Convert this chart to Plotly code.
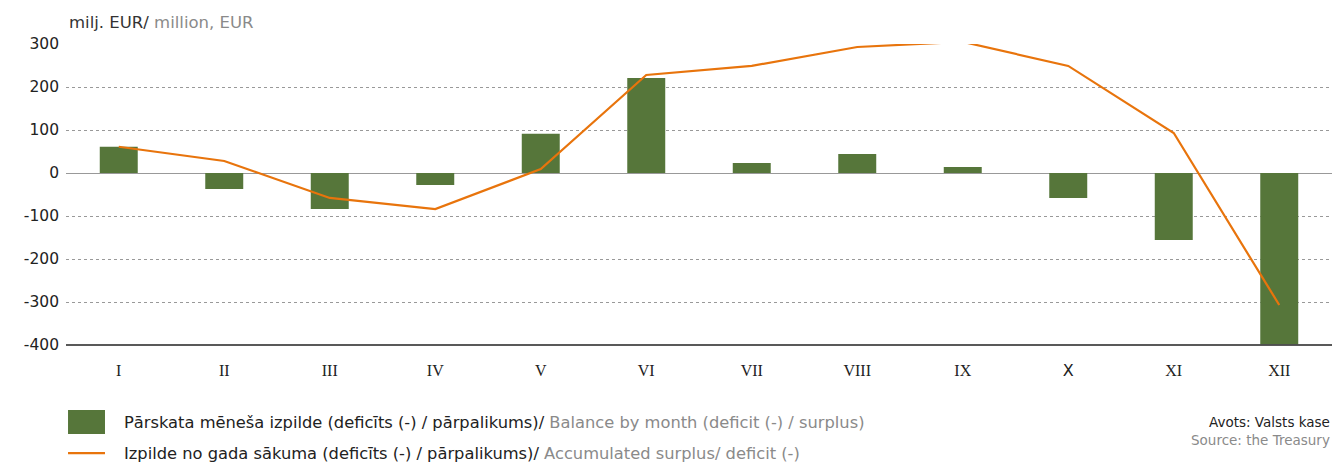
import plotly.graph_objects as go

months = ["I", "II", "III", "IV", "V", "VI", "VII", "VIII", "IX", "X", "XI", "XII"]
month_labels = ["I", "II", "III", "IV", "V", "VI", "VII", "VIII", "IX",
                "<span style='font-family:DejaVu Sans'>X</span>", "XI", "XII"]
monthly = [61, -37, -84, -28, 91, 221, 23, 44, 14, -58, -156, -398]
accumulated = [61, 28, -58, -84, 9, 228, 249, 293, 305, 249, 93, -307]
y_ticks = [300, 200, 100, 0, -100, -200, -300, -400]
y_tick_labels = ["300", "200", "100", "0", "-100", "-200", "-300", "-400"]

BAR = "#56763A"
LINE = "#E8740C"

fig = go.Figure()
fig.add_trace(go.Bar(x=months, y=monthly, marker=dict(color=BAR, line=dict(width=0)),
                     width=0.36, showlegend=False))
fig.add_trace(go.Scatter(x=months, y=accumulated, mode="lines", cliponaxis=False,
                         line=dict(color=LINE, width=2.2), showlegend=False))

fig.update_layout(
    width=1335, height=463,
    margin=dict(l=66, r=3, t=44, b=118),
    paper_bgcolor="white", plot_bgcolor="white",
    font=dict(family="DejaVu Sans", color="#222"),
    xaxis=dict(tickvals=months, ticktext=month_labels, ticks="", showgrid=False,
               tickfont=dict(family="Liberation Serif", size=16, color="#222"),
               showline=False, zeroline=False, ticklabelstandoff=14),
    yaxis=dict(range=[-400, 300], tickvals=y_ticks, ticktext=y_tick_labels,
               showgrid=True, gridcolor="#999", griddash="dot", gridwidth=1,
               zeroline=True, zerolinecolor="#999", zerolinewidth=1,
               tickfont=dict(family="DejaVu Sans", size=15.5, color="#222"),
               showline=False, ticks="", ticklabelstandoff=6),
)
# bottom axis line
fig.add_shape(type="line", xref="paper", yref="paper", x0=0, x1=1, y0=0, y1=0,
              line=dict(color="#222", width=1.5))

fig.add_annotation(xref="paper", yref="paper", x=0.0, y=1.0, yshift=22,
                   xanchor="left", yanchor="middle", showarrow=False, xshift=1,
                   text="milj. EUR/ <span style='color:#8a8a8a'>million, EUR</span>",
                   font=dict(family="DejaVu Sans", size=16.5, color="#333"))

# legend (manual)
fig.add_shape(type="rect", xref="paper", yref="paper", x0=0.0016, x1=0.0308,
              y0=-0.296, y1=-0.216, fillcolor=BAR, line=dict(width=0))
fig.add_shape(type="line", xref="paper", yref="paper", x0=0.0016, x1=0.0308,
              y0=-0.359, y1=-0.359, line=dict(color=LINE, width=2.2))
fig.add_annotation(xref="paper", yref="paper", x=0.0442, y=-0.256, xanchor="left",
                   yanchor="middle", showarrow=False,
                   text="Pārskata mēneša izpilde (deficīts (-) / pārpalikums)/ <span style='color:#8a8a8a'>Balance by month (deficit (-) / surplus)</span>",
                   font=dict(family="DejaVu Sans", size=16.3, color="#222"))
fig.add_annotation(xref="paper", yref="paper", x=0.0442, y=-0.359, xanchor="left",
                   yanchor="middle", showarrow=False,
                   text="Izpilde no gada sākuma (deficīts (-) / pārpalikums)/ <span style='color:#8a8a8a'>Accumulated surplus/ deficit (-)</span>",
                   font=dict(family="DejaVu Sans", size=16.3, color="#222"))
fig.add_annotation(xref="paper", yref="paper", x=1.0, y=-0.256, xanchor="right",
                   yanchor="middle", showarrow=False, text="Avots: Valsts kase",
                   font=dict(family="DejaVu Sans", size=13.5, color="#222"))
fig.add_annotation(xref="paper", yref="paper", x=1.0, y=-0.316, xanchor="right",
                   yanchor="middle", showarrow=False, text="Source: the Treasury",
                   font=dict(family="DejaVu Sans", size=13.5, color="#8a8a8a"))

fig.write_html("out.html", config={"displayModeBar": False},
               post_script="document.body.style.margin='0';document.body.style.overflow='hidden';")
